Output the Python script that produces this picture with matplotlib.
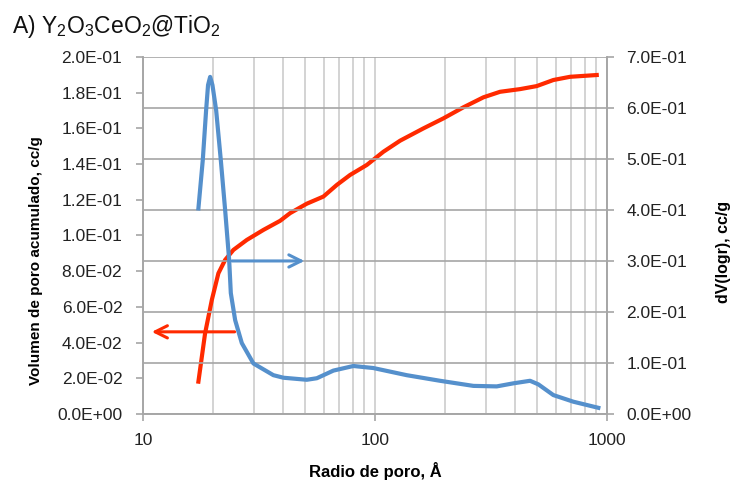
import matplotlib.pyplot as plt
from matplotlib.ticker import FixedLocator, LogLocator, NullFormatter, FuncFormatter
import numpy as np

# curva acumulada (eje izquierdo)
radio_acum = [17.31, 18.50, 19.78, 21.11, 22.57, 24.50, 27.99, 33.00, 38.95, 43.01, 50.77,
              59.88, 68.38, 78.03, 92.10, 108.6, 128.2, 161.6, 197.0, 240.3, 293.1, 345.7,
              421.7, 497.7, 586.9, 692.6, 903.0]
vol_acum = [0.0181, 0.0452, 0.0639, 0.0788, 0.0863, 0.0919, 0.0975, 0.1031, 0.1082, 0.1125,
            0.1178, 0.1218, 0.1283, 0.1339, 0.1395, 0.1469, 0.1531, 0.1600, 0.1656, 0.1718,
            0.1774, 0.1805, 0.1820, 0.1837, 0.1871, 0.1889, 0.1899]

# distribucion dV(logr) (eje derecho)
radio_dist = [17.31, 18.08, 18.69, 19.05, 19.45, 19.90, 20.64, 21.62, 22.57, 23.49, 23.88,
              24.93, 26.63, 29.88, 36.44, 40.25, 50.77, 56.08, 66.12, 80.63, 98.33, 136.9,
              190.6, 265.3, 334.6, 394.6, 465.7, 505.8, 586.9, 715.6, 917.5]
dv_logr = [0.403, 0.498, 0.596, 0.645, 0.661, 0.645, 0.596, 0.498, 0.400, 0.302, 0.237,
           0.184, 0.139, 0.099, 0.076, 0.071, 0.067, 0.070, 0.085, 0.094, 0.090, 0.076,
           0.065, 0.055, 0.054, 0.060, 0.065, 0.058, 0.037, 0.024, 0.012]

ticks_izq = np.arange(0, 0.2001, 0.02)
ticks_der = np.arange(0, 0.7001, 0.1)

rojo = '#ff2a00'
azul = '#5590cc'
gris = '#a6a6a6'
gris_claro = '#cccccc'

plt.rcParams['font.family'] = ['Liberation Sans', 'DejaVu Sans']
plt.rcParams['mathtext.fontset'] = 'custom'
plt.rcParams['mathtext.rm'] = 'Liberation Sans'

fig = plt.figure(figsize=(7.34, 4.83), dpi=100)
ax = fig.add_axes([0.195, 0.143, 0.632, 0.739])
ax2 = ax.twinx()

ax.set_xscale('log')
ax.set_xlim(10, 1000)
ax.set_ylim(0, 0.2)
ax2.set_ylim(0, 0.7)

ax.plot(radio_acum, vol_acum, color=rojo, lw=3, solid_joinstyle='round', zorder=3)
ax2.plot(radio_dist, dv_logr, color=azul, lw=3, solid_joinstyle='round', zorder=3)

fmt = FuncFormatter(lambda v, p: f'{v:.1E}')
ax.set_yticks(ticks_izq)
ax.yaxis.set_major_formatter(fmt)
ax2.set_yticks(ticks_der)
ax2.yaxis.set_major_formatter(fmt)

ax.xaxis.set_major_locator(FixedLocator([10, 100, 1000]))
ax.xaxis.set_major_formatter(FuncFormatter(lambda v, p: f'{v:.0f}'))
ax.xaxis.set_minor_locator(LogLocator(base=10, subs=np.arange(2, 10)))
ax.xaxis.set_minor_formatter(NullFormatter())

ax.grid(True, which='both', axis='x', color=gris_claro, lw=1.2)
ax2.grid(True, axis='y', color=gris, lw=1.2)
ax.set_axisbelow(True)
ax2.set_axisbelow(True)

for a in (ax, ax2):
    for s in a.spines.values():
        s.set_color(gris)
        s.set_linewidth(1.2)
    a.spines['top'].set_visible(False)
    a.tick_params(colors=gris, labelcolor='#222222', labelsize=12.5, length=5, width=1.2)
ax.tick_params(axis='y', pad=10)
ax2.tick_params(axis='y', pad=9)
ax.tick_params(axis='x', pad=9)
ax.tick_params(axis='x', which='minor', length=0)

ax.set_xlabel('Radio de poro, Å', fontsize=12, fontweight='bold')
ax.xaxis.set_label_coords(0.5, -0.135)
ax.set_ylabel('Volumen de poro acumulado, cc/g', fontsize=11, fontweight='bold')
ax.yaxis.set_label_coords(-0.216, 0.43)
ax2.set_ylabel('dV(logr), cc/g', fontsize=11.5, fontweight='bold')
ax2.yaxis.set_label_coords(1.236, 0.454)

# flechas indicando el eje de cada curva
ax2.annotate('', xy=(51, 0.3), xytext=(23.5, 0.3),
             arrowprops=dict(arrowstyle='->', color=azul, lw=2.2, mutation_scale=22))
ax.annotate('', xy=(10.6, 0.046), xytext=(25.5, 0.046),
            arrowprops=dict(arrowstyle='->', color=rojo, lw=2.2, mutation_scale=22))

fig.text(0.016, 0.932, 'A) Y$_2$O$_3$CeO$_2$@TiO$_2$', fontsize=16.5, color='#111111',
         va='baseline')

fig.savefig('out.png', dpi=100)
